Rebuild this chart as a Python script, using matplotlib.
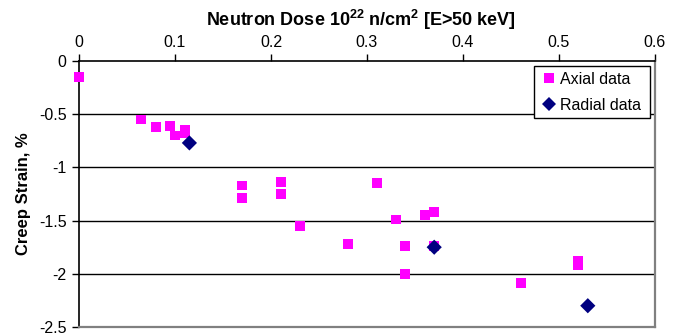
import matplotlib
matplotlib.use("Agg")
import matplotlib.pyplot as plt
from matplotlib.lines import Line2D

plt.rcParams['font.family'] = ['Liberation Sans', 'DejaVu Sans']
plt.rcParams['mathtext.fontset'] = 'custom'
plt.rcParams['mathtext.rm'] = 'Liberation Sans'
plt.rcParams['mathtext.bf'] = 'Liberation Sans:bold'

# Creep strain vs neutron dose
axial_dose = [0.0, 0.065, 0.08, 0.095, 0.10, 0.11, 0.11, 0.17, 0.17, 0.21, 0.21,
              0.23, 0.28, 0.31, 0.33, 0.34, 0.34, 0.36, 0.37, 0.37, 0.46, 0.52, 0.52]
axial_strain = [-0.15, -0.55, -0.62, -0.61, -0.70, -0.65, -0.68, -1.17, -1.29, -1.14, -1.25,
                -1.55, -1.72, -1.15, -1.49, -1.74, -2.00, -1.45, -1.42, -1.74, -2.09, -1.88, -1.92]

radial_dose = [0.115, 0.37, 0.53]
radial_strain = [-0.77, -1.75, -2.30]

x_ticks = [0, 0.1, 0.2, 0.3, 0.4, 0.5, 0.6]
x_tick_labels = ['0', '0.1', '0.2', '0.3', '0.4', '0.5', '0.6']
y_ticks = [0, -0.5, -1, -1.5, -2, -2.5]
y_tick_labels = ['0', '-0.5', '-1', '-1.5', '-2', '-2.5']

fig = plt.figure(figsize=(6.79, 3.33), dpi=100)
ax = fig.add_axes([79 / 679, 1 - 327 / 333, (655 - 79) / 679, (327 - 61) / 333])

ax.set_xlim(0, 0.6)
ax.set_ylim(-2.5, 0)

for yv in y_ticks[1:-1]:
    ax.axhline(yv, color='black', lw=1.0, zorder=1)

ax.scatter(axial_dose, axial_strain, marker='s', s=50, color='#ff00ff',
           edgecolors='none', zorder=3, clip_on=False)
ax.scatter(radial_dose, radial_strain, marker='D', s=60, color='#000080',
           edgecolors='none', zorder=4, clip_on=False)

ax.xaxis.tick_top()
ax.xaxis.set_label_position('top')
ax.set_xticks(x_ticks)
ax.set_xticklabels(x_tick_labels)
ax.set_yticks(y_ticks)
ax.set_yticklabels(y_tick_labels)
ax.tick_params(axis='both', direction='out', length=5, width=1, labelsize=11.5,
               color='black')
ax.tick_params(axis='x', pad=3)
ax.tick_params(axis='y', pad=4)

ax.spines['top'].set_color('black')
ax.spines['left'].set_color('black')
ax.spines['top'].set_linewidth(1.2)
ax.spines['left'].set_linewidth(1.2)
ax.spines['right'].set_color('#808080')
ax.spines['bottom'].set_color('#808080')
ax.spines['right'].set_linewidth(1.6)
ax.spines['bottom'].set_linewidth(1.6)

ax.set_xlabel(r'Neutron Dose 10$^{\mathbf{22}}$ n/cm$^{\mathbf{2}}$ [E>50 keV]',
              fontsize=13, fontweight='bold', labelpad=5)
ax.xaxis.set_label_coords(361 / 679, 1, transform=fig.transFigure)
ax.xaxis.label.set_va('top')
ax.xaxis.label.set_y(1 - 8 / 333)
ax.set_ylabel('Creep Strain, %', fontsize=12, fontweight='bold', labelpad=6)

handles = [
    Line2D([], [], marker='s', linestyle='none', color='#ff00ff', markersize=6.5,
           markeredgewidth=0),
    Line2D([], [], marker='D', linestyle='none', color='#000080', markersize=7,
           markeredgewidth=0),
]
# legend box spans a fixed strip in the upper right of the plot area
leg = ax.legend(handles, ['Axial data', 'Radial data'], loc='upper left',
                bbox_to_anchor=(534 / 679, 1 - 118 / 333, 116 / 679, 52 / 333),
                bbox_transform=fig.transFigure, mode='expand',
                fontsize=11.5, frameon=True, fancybox=False, framealpha=1,
                edgecolor='black', handlelength=1.2, handletextpad=0.05,
                borderpad=0.35, labelspacing=0.7, borderaxespad=0)
leg.get_frame().set_linewidth(1.0)

fig.savefig('out.png', dpi=100)
